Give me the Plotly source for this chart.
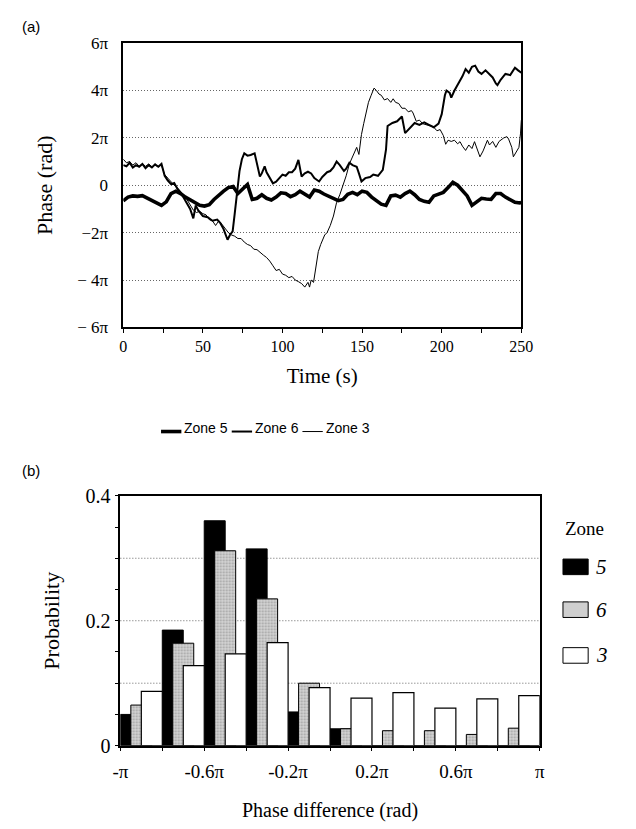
import plotly.graph_objects as go

# ---------------- Panel (a) data: phase (units of pi) vs time (s) ----------------
z5_t = [0,3,6,9,12,15,18,21,24,27,30,33,36,39,42,45,48,51,54,57,60,63,66,69,72,75,78,81,84,87,90,93,96,99,102,105,108,111,114,117,120,123,126,129,132,135,138,141,144,147,150,153,156,159,162,165,168,171,174,177,180,183,186,189,192,195,198,201,204,207,210,213,216,219,222,225,228,231,234,237,240,243,246,249,250]
z5_v = [-0.66,-0.5,-0.45,-0.47,-0.44,-0.55,-0.62,-0.75,-0.85,-0.7,-0.35,-0.25,-0.35,-0.5,-0.62,-0.75,-0.85,-0.88,-0.82,-0.6,-0.4,-0.25,-0.1,-0.05,-0.35,-0.15,0.03,-0.6,-0.55,-0.4,-0.55,-0.62,-0.5,-0.32,-0.35,-0.48,-0.4,-0.25,-0.38,-0.5,-0.2,-0.25,-0.37,-0.45,-0.55,-0.65,-0.6,-0.38,-0.3,-0.4,-0.25,-0.3,-0.5,-0.65,-0.8,-0.85,-0.45,-0.42,-0.5,-0.35,-0.25,-0.4,-0.6,-0.68,-0.72,-0.45,-0.38,-0.3,-0.1,0.12,0.0,-0.2,-0.45,-0.85,-0.7,-0.55,-0.58,-0.6,-0.35,-0.35,-0.5,-0.6,-0.72,-0.75,-0.72]

z6_t = [0,2,4,6,8,10,12,14,16,18,20,22,24,26,28,30,32,34,36,38,40,42,44,45.5,47,50,53,56,59,61,63,65.5,67,68.7,70,71.6,73,74.5,76,78,80,82.5,84,85.8,87,88.8,90,92,94,96,98,100,102,104,106,108,110,112,114,116,118,120,123,125,128,130,132,134,136,138.6,140,142,144,146.6,148,149.6,152,155,157,160,163,165,166,169,172,175,177,180,183,186,189,192,195,198,200,202,203,205,206,208,211.5,213,215,217,219,221,223,225,227.5,230,232,234,235,237,240,243,246,248,250]
z6_v = [0.85,0.8,0.95,0.75,0.85,0.78,0.9,0.72,0.85,0.75,0.88,0.78,0.9,0.4,0.2,0.05,0.1,-0.15,-0.3,-0.55,-0.75,-1.0,-1.4,-0.85,-1.05,-1.3,-1.35,-1.5,-1.45,-1.6,-1.85,-2.3,-2.1,-1.95,-1.2,-0.3,0.6,1.1,1.35,1.25,1.28,1.35,0.9,0.37,0.5,0.8,0.55,0.3,0.08,0.15,0.3,0.45,0.4,0.55,0.55,0.7,1.07,0.37,0.5,0.57,0.5,0.3,0.16,0.35,0.55,0.6,0.75,1.0,0.85,0.6,0.7,0.95,0.85,0.78,0.5,0.16,0.3,0.35,0.45,0.4,0.65,1.5,2.5,2.63,2.7,2.9,2.2,2.4,2.63,2.55,2.65,2.55,2.45,2.6,3.0,3.8,4.0,3.9,3.7,4.0,4.4,4.6,4.9,4.75,5.0,5.05,4.8,4.7,4.85,4.7,4.55,4.3,4.23,4.45,4.7,4.65,4.96,4.85,4.75]

z3_t = [0,2,4,6,8,10,12,14,16,18,20,22,24,26,28,30,32,34,36,38,40,42,44,46,48,50,52,54,56,58,60,62,64,66,68,70,72,74,76,78,80,82,84,86,88,90,92,94,96,98,100,102,104,106,108,110,112,114,116,117,118,119.5,121,122.5,124,126.5,128,130,132,134,136,138.6,140,142,144,146.6,148,149.6,151,152.7,154,155.7,157.5,159,160.6,162,164,166,168,169.5,171,173,175,177,179,181,182,184,186,188,191,193,195,197,199,201,202.5,204,206,208,210,211.5,213,215,217,219,220.6,222,224,226,228.7,230,232,234,236,239,241,242,244,245,247,248.5,249.5,250]
z3_v = [1.1,0.95,1.0,0.85,0.95,0.8,0.9,0.8,0.9,0.78,0.85,0.8,0.85,0.45,0.3,0.15,0.0,-0.1,-0.3,-0.45,-0.6,-0.85,-1.05,-1.15,-1.1,-1.2,-1.25,-1.45,-1.5,-1.7,-1.5,-1.65,-1.85,-2.0,-2.1,-2.15,-2.25,-2.25,-2.4,-2.5,-2.55,-2.7,-2.72,-2.85,-2.95,-3.05,-3.2,-3.4,-3.6,-3.55,-3.75,-3.8,-3.9,-3.85,-4.0,-4.07,-4.15,-4.3,-4.1,-4.3,-4.0,-4.1,-3.5,-2.8,-2.5,-2.1,-2.0,-1.7,-1.3,-0.72,-0.4,0.08,0.4,0.9,1.2,1.6,1.3,2.14,2.6,3.1,3.5,3.8,4.1,4.0,3.85,3.8,3.6,3.66,3.5,3.65,3.5,3.45,3.25,3.25,3.1,3.15,3.05,2.7,2.75,2.6,2.55,2.5,2.45,2.3,2.35,2.1,1.73,1.9,1.85,1.9,1.75,1.84,1.65,1.47,1.7,1.55,1.84,1.6,1.2,1.45,1.9,1.7,1.85,1.6,1.85,2.0,2.05,1.95,1.6,1.2,1.4,1.6,2.2,2.75]

a_ytickvals = [-6, -4, -2, 0, 2, 4, 6]
a_yticktext = ["\u2212 6\u03c0", "\u2212 4\u03c0", "\u22122\u03c0", "0", "2\u03c0", "4\u03c0", "6\u03c0"]
a_xtickvals = [0, 50, 100, 150, 200, 250]
a_series_names = ["Zone 5", "Zone 6", "Zone 3"]

# ---------------- Panel (b) data: probability histogram ----------------
bin_starts = [-1.0, -0.8, -0.6, -0.4, -0.2, 0.0, 0.2, 0.4, 0.6, 0.8]  # units of pi
p_zone5 = [0.050, 0.185, 0.360, 0.315, 0.054, 0.027, 0.0, 0.0, 0.0, 0.0]
p_zone6 = [0.065, 0.164, 0.312, 0.235, 0.100, 0.027, 0.024, 0.024, 0.018, 0.028]
p_zone3 = [0.087, 0.128, 0.147, 0.165, 0.093, 0.076, 0.085, 0.060, 0.075, 0.080]
b_xtickvals = [-1.0, -0.6, -0.2, 0.2, 0.6, 1.0]
b_xticktext = ["-\u03c0", "-0.6\u03c0", "-0.2\u03c0", "0.2\u03c0", "0.6\u03c0", "\u03c0"]
b_zone_labels = ["5", "6", "3"]

SERIF = "Liberation Serif, Times New Roman, serif"
SANS = "Liberation Sans, Arial, sans-serif"
W, H = 636, 829
GRID_DASH = "1px,2px"

def py(p):
    return 1 - p / H

def px(p):
    return p / W

fig = go.Figure()

widths = [3.6, 2.0, 1.0]
for t, v, nm, lw in zip([z5_t, z6_t, z3_t], [z5_v, z6_v, z3_v], a_series_names, widths):
    fig.add_trace(go.Scatter(x=t, y=v, mode="lines", name=nm,
                             line=dict(color="black", width=lw), xaxis="x", yaxis="y",
                             showlegend=False))

# Panel (b) overlapping bars
bw = 0.1
offs = [0.05, 0.10, 0.15]
fig.add_trace(go.Bar(x=[s + offs[0] for s in bin_starts], y=p_zone5, width=bw, name="5",
                     marker=dict(color="black", line=dict(color="black", width=1)),
                     xaxis="x2", yaxis="y2", showlegend=False))
fig.add_trace(go.Bar(x=[s + offs[1] for s in bin_starts], y=p_zone6, width=bw, name="6",
                     marker=dict(color="#c9c9c9", line=dict(color="black", width=1),
                                 pattern=dict(shape=".", fgcolor="#6a6a6a", bgcolor="#d4d4d4",
                                              size=3, solidity=0.35)),
                     xaxis="x2", yaxis="y2", showlegend=False))
fig.add_trace(go.Bar(x=[s + offs[2] for s in bin_starts], y=p_zone3, width=bw, name="3",
                     marker=dict(color="white", line=dict(color="black", width=1.2)),
                     xaxis="x2", yaxis="y2", showlegend=False))

fig.update_layout(
    width=W, height=H, margin=dict(l=0, r=0, t=0, b=0),
    paper_bgcolor="white", plot_bgcolor="white",
    barmode="overlay", showlegend=False,
    xaxis=dict(domain=[px(119), px(530)], range=[0, 250], tickvals=a_xtickvals,
               showline=True, linecolor="black", linewidth=1.5, mirror=True,
               ticks="outside", ticklen=4, tickcolor="black", showgrid=False, zeroline=False,
               minor=dict(dtick=25, ticks="outside", ticklen=4, tickcolor="black"),
               tickfont=dict(family=SERIF, size=16, color="black"),
               title=dict(text="Time (s)", font=dict(family=SERIF, size=21, color="black"), standoff=14),
               anchor="y"),
    yaxis=dict(domain=[py(325), py(33)], range=[-6, 6], tickvals=a_ytickvals, ticktext=a_yticktext,
               showline=True, linecolor="black", linewidth=1.5, mirror=True,
               ticks="", showgrid=True, gridcolor="#666", griddash=GRID_DASH, gridwidth=1,
               zeroline=False, ticklabelstandoff=10,
               tickfont=dict(family=SERIF, size=17, color="black"),
               title=dict(text="Phase (rad)", font=dict(family=SERIF, size=22, color="black"), standoff=18),
               anchor="x"),
    xaxis2=dict(domain=[px(116), px(549)], range=[-1.0, 1.0], tickvals=b_xtickvals, ticktext=b_xticktext,
                showline=True, linecolor="black", linewidth=1.5, mirror=True,
                ticks="outside", ticklen=4, tickcolor="black", showgrid=False, zeroline=False,
                minor=dict(dtick=0.2, tick0=0, ticks="outside", ticklen=4, tickcolor="black"),
                ticklabelstandoff=4,
                tickfont=dict(family=SERIF, size=19, color="black"),
                title=dict(text="Phase difference (rad)", font=dict(family=SERIF, size=20, color="black"), standoff=22),
                anchor="y2"),
    yaxis2=dict(domain=[py(754.7), py(498)], range=[0, 0.4], tickvals=[0, 0.2, 0.4],
                ticktext=["0", "0.2", "0.4"],
                showline=True, linecolor="black", linewidth=1.5, mirror=True,
                ticks="outside", ticklen=4, tickcolor="black",
                minor=dict(dtick=0.05, ticks="outside", ticklen=4, tickcolor="black", showgrid=False),
                showgrid=False, zeroline=False,
                tickfont=dict(family=SERIF, size=20, color="black"),
                title=dict(text="Probability", font=dict(family=SERIF, size=22, color="black"), standoff=20),
                anchor="x2"),
)

# dotted gridlines for panel (b) at 0.1, 0.2, 0.3
for gv in [0.1, 0.2, 0.3]:
    fig.add_shape(type="line", xref="x2 domain", yref="y2", x0=0, x1=1, y0=gv, y1=gv,
                  line=dict(color="#666", width=1, dash=GRID_DASH), layer="below")

# panel labels
fig.add_annotation(x=px(12), y=py(16), xref="paper", yref="paper", text="(a)", showarrow=False,
                   xanchor="left", yanchor="middle", font=dict(family=SANS, size=15, color="black"))
fig.add_annotation(x=px(12), y=py(472), xref="paper", yref="paper", text="(b)", showarrow=False,
                   xanchor="left", yanchor="middle", font=dict(family=SANS, size=15, color="black"))

# legend for panel (a): line samples + labels
leg_a_x = [158, 231, 304]
for nm, lw, x0 in zip(a_series_names, widths, leg_a_x):
    fig.add_shape(type="line", xref="paper", yref="paper", x0=px(x0), x1=px(x0 + 21),
                  y0=py(432), y1=py(432), line=dict(color="black", width=lw))
    fig.add_annotation(x=px(x0 + 22), y=py(428), xref="paper", yref="paper", text=nm, showarrow=False,
                       xanchor="left", yanchor="middle", font=dict(family=SANS, size=14, color="black"))

# legend for panel (b)
fig.add_annotation(x=px(573), y=py(532), xref="paper", yref="paper", text="Zone", showarrow=False,
                   xanchor="left", yanchor="middle", font=dict(family=SERIF, size=19, color="black"))
leg_cols = ["black", "#cfcfcf", "white"]
leg_y = [571, 615, 662]
for lab, col, yc in zip(b_zone_labels, leg_cols, leg_y):
    fig.add_shape(type="rect", xref="paper", yref="paper", x0=px(573), x1=px(599),
                  y0=py(yc + 8), y1=py(yc - 8), fillcolor=col, line=dict(color="black", width=1))
    fig.add_annotation(x=px(605), y=py(yc), xref="paper", yref="paper", text="<i>%s</i>" % lab,
                       showarrow=False, xanchor="left", yanchor="middle",
                       font=dict(family=SERIF, size=21, color="black"))

fig.write_html("out.html")
